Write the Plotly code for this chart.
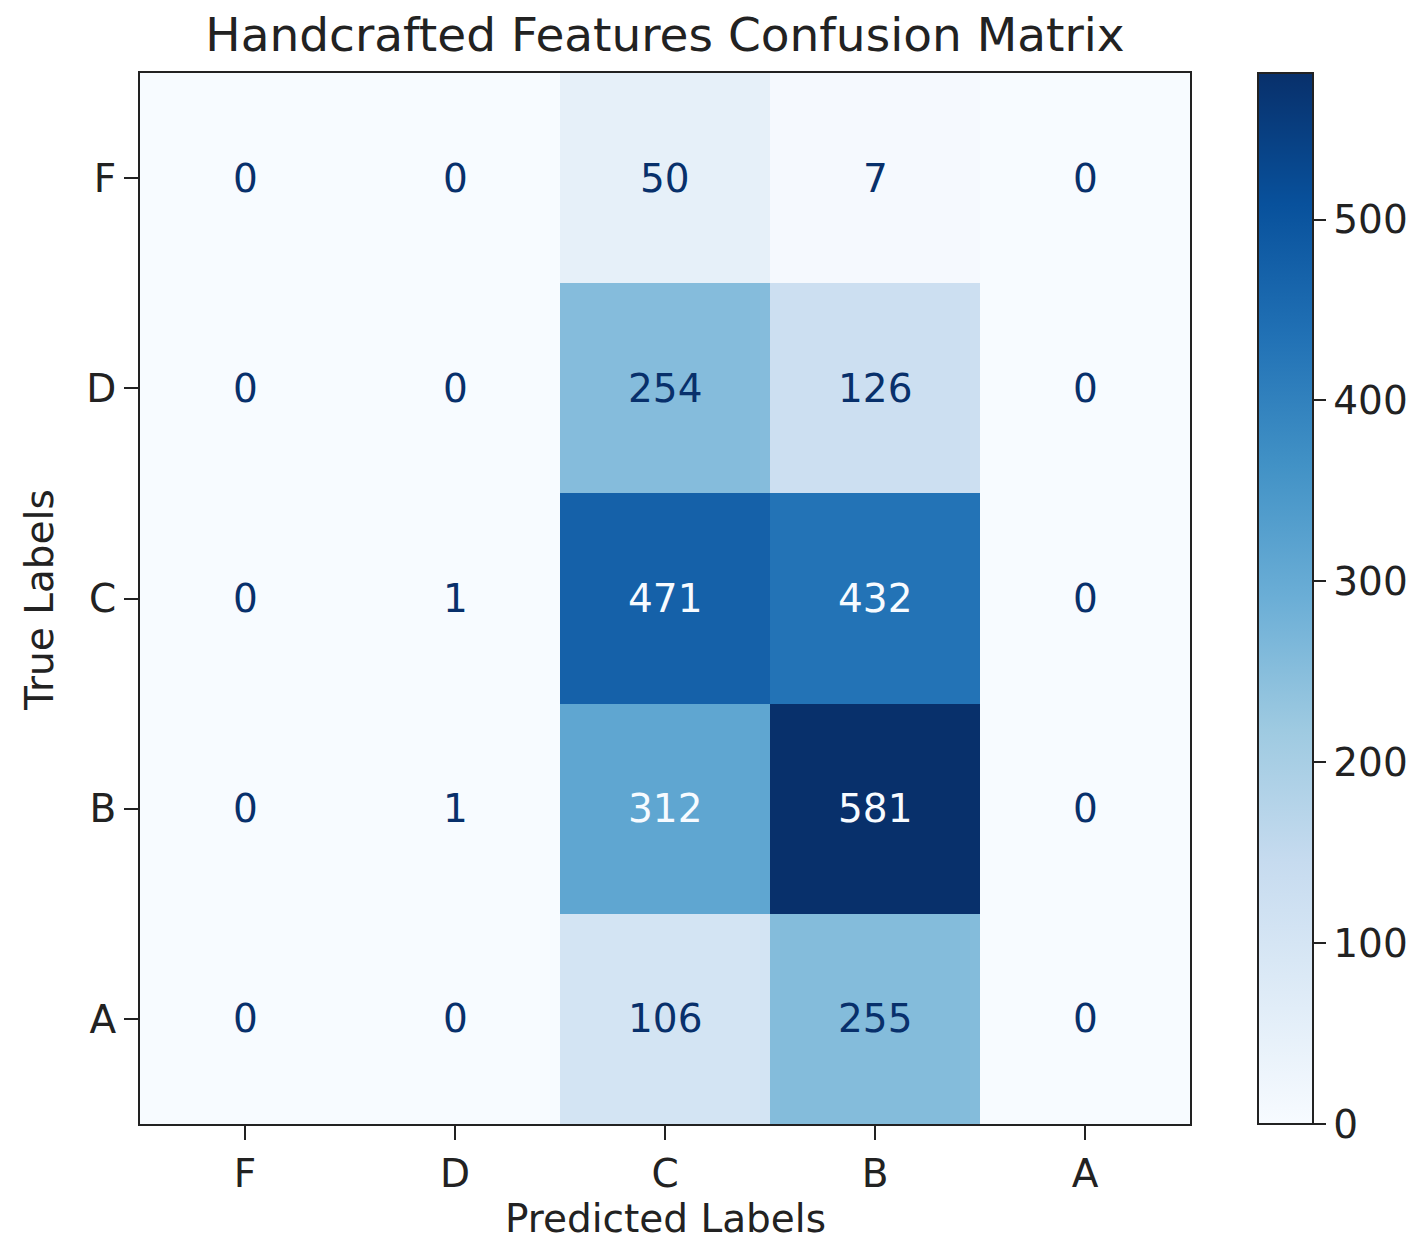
import plotly.graph_objects as go

labels = ["F", "D", "C", "B", "A"]
true_labels = ["F", "D", "C", "B", "A"]
pred_labels = ["F", "D", "C", "B", "A"]
row_F = [0, 0, 50, 7, 0]
row_D = [0, 0, 254, 126, 0]
row_C = [0, 1, 471, 432, 0]
row_B = [0, 1, 312, 581, 0]
row_A = [0, 0, 106, 255, 0]
matrix = [row_F, row_D, row_C, row_B, row_A]
cbar_ticks = [0, 100, 200, 300, 400, 500]

blues = [
    [0.0, "#f7fbff"], [0.125, "#deebf7"], [0.25, "#c6dbef"], [0.375, "#9ecae1"],
    [0.5, "#6baed6"], [0.625, "#4292c6"], [0.75, "#2171b5"], [0.875, "#08519c"],
    [1.0, "#08306b"],
]

zmin = 0
zmax = max(max(r) for r in matrix)
thresh = (zmin + zmax) / 2.0

FONT = "DejaVu Sans"
W, H = 1422, 1243
L, R, T, B = 140, 1190, 73, 1124

fig = go.Figure()
fig.add_trace(go.Heatmap(
    z=matrix, x=pred_labels, y=true_labels,
    colorscale=blues, zmin=zmin, zmax=zmax,
    hoverinfo="skip",
    colorbar=dict(
        x=(1258 - L) / (R - L), xanchor="left", xref="paper",
        y=0.5, yanchor="middle", len=1.0, lenmode="fraction",
        thickness=55, thicknessmode="pixels",
        outlinecolor="#222", outlinewidth=2,
        tickvals=cbar_ticks, ticks="outside", ticklen=12, tickwidth=2, tickcolor="#222",
        tickfont=dict(family=FONT, size=39, color="#222"),
        ypad=0, xpad=0,
    ),
))

annotations = []
for i, t in enumerate(true_labels):
    for j, p in enumerate(pred_labels):
        v = matrix[i][j]
        annotations.append(dict(
            x=p, y=t, xref="x", yref="y", text=str(v), showarrow=False,
            font=dict(family=FONT, size=39, color="#f7fbff" if v > thresh else "#08306b"),
        ))

annotations.append(dict(
    text="Predicted Labels", xref="paper", yref="paper",
    x=0.5, y=(B - 1218) / (B - T), xanchor="center", yanchor="middle",
    showarrow=False, font=dict(family=FONT, size=39, color="#222"),
))
annotations.append(dict(
    text="True Labels", xref="paper", yref="paper",
    x=(40 - L) / (R - L), y=(B - 600) / (B - T), xanchor="center", yanchor="middle",
    textangle=-90, showarrow=False, font=dict(family=FONT, size=39, color="#222"),
))

fig.update_layout(
    width=W, height=H,
    margin=dict(l=L, r=W - R, t=T, b=H - B, pad=0),
    paper_bgcolor="white", plot_bgcolor="white",
    title=dict(text="Handcrafted Features Confusion Matrix",
               x=(L + R) / 2 / W, xanchor="center", xref="container",
               y=1 - 35 / H, yanchor="middle", yref="container",
               font=dict(family=FONT, size=47, color="#222")),
    annotations=annotations,
    xaxis=dict(type="category", categoryorder="array", categoryarray=pred_labels,
               showgrid=False, zeroline=False, showline=True, linecolor="#222",
               linewidth=2, mirror=True, ticks="outside", ticklen=14, tickwidth=2,
               tickcolor="#222", tickfont=dict(family=FONT, size=39, color="#222")),
    yaxis=dict(type="category", categoryorder="array", categoryarray=true_labels,
               autorange="reversed",
               showgrid=False, zeroline=False, showline=True, linecolor="#222",
               linewidth=2, mirror=True, ticks="outside", ticklen=14, tickwidth=2,
               tickcolor="#222", tickfont=dict(family=FONT, size=39, color="#222")),
)

fig.write_html("out.html")
